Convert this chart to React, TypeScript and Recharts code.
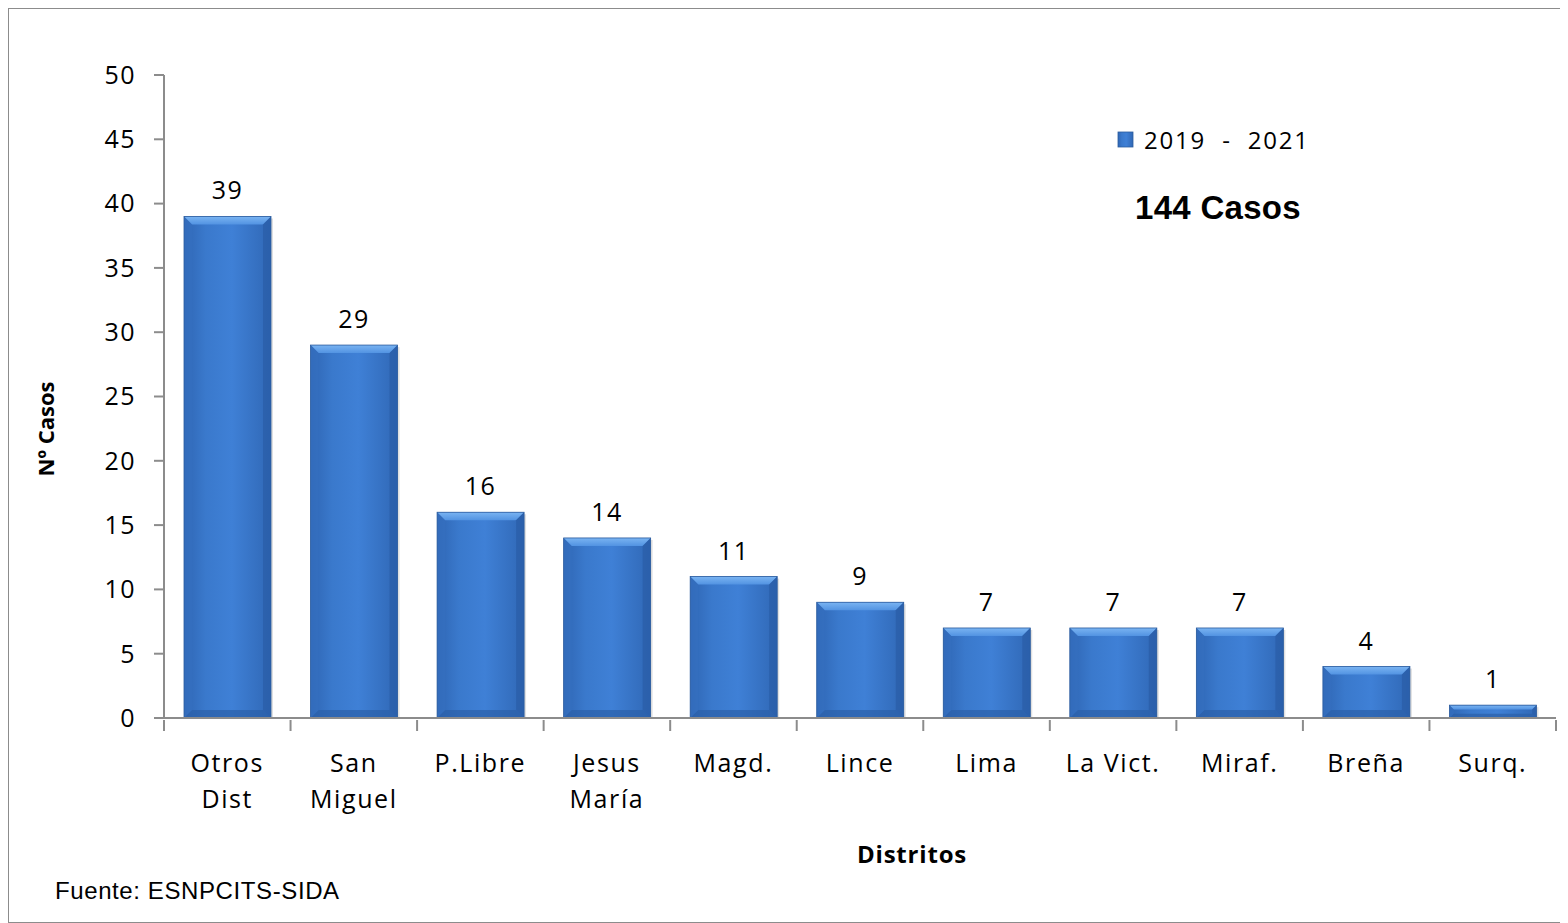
import React from 'react'
import { BarChart, Bar, XAxis, YAxis, LabelList } from 'recharts'

const DISTRICTS = ['Otros\nDist', 'San\nMiguel', 'P.Libre', 'Jesus\nMaría', 'Magd.', 'Lince', 'Lima', 'La Vict.', 'Miraf.', 'Breña', 'Surq.']
const CASES = [39, 29, 16, 14, 11, 9, 7, 7, 7, 4, 1]
const Y_TICKS = [0, 5, 10, 15, 20, 25, 30, 35, 40, 45, 50]

const data = DISTRICTS.map((d, i) => ({ district: d, cases: CASES[i] }))

const FONT = '"Open Sans", Lato, sans-serif'
const AXIS = '#8c8c8c'
const CHART_W = 1558
const MARGIN = { top: 66, right: 11, left: 95, bottom: 104 }
const Y_WIDTH = 60

const BevelBar = (props: any) => {
  const { x, y, width, height } = props
  if (!height || height <= 0) return null
  const b = Math.min(8, height / 3)
  return (
    <g>
      <rect x={x + 2} y={y + 2} width={width} height={height - 2} fill="#000" opacity={0.12} />
      <rect x={x} y={y} width={width} height={height} fill="url(#barGrad)" />
      <polygon points={`${x},${y} ${x + width},${y} ${x + width - b},${y + b} ${x + b},${y + b}`} fill="url(#topGrad)" />
      <polygon points={`${x},${y + height} ${x + width},${y + height} ${x + width - b},${y + height - b} ${x + b},${y + height - b}`} fill="#2b5fa8" opacity={0.7} />
      <polygon points={`${x},${y} ${x + b},${y + b} ${x + b},${y + height - b} ${x},${y + height}`} fill="#3570c0" opacity={0.6} />
      <polygon points={`${x + width},${y} ${x + width - b},${y + b} ${x + width - b},${y + height - b} ${x + width},${y + height}`} fill="#2a5ca6" opacity={0.7} />
      <rect x={x} y={y} width={width} height={height} fill="none" stroke="#2c5c9e" strokeWidth={0.8} />
    </g>
  )
}

// tick marks sit on the category boundaries, labels in the middle
const DistrictTick = ({ x, y, payload, index }: any) => {
  const lines = String(payload.value).split('\n')
  const plotW = CHART_W - MARGIN.left - MARGIN.right - Y_WIDTH
  const half = plotW / DISTRICTS.length / 2
  return (
    <g>
      <line x1={x - half} y1={y - 8} x2={x - half} y2={y + 3} stroke={AXIS} strokeWidth={2} />
      {index === DISTRICTS.length - 1 && (
        <line x1={x + half} y1={y - 8} x2={x + half} y2={y + 3} stroke={AXIS} strokeWidth={2} />
      )}
      <text x={x} y={y} textAnchor="middle" fontSize={25} fill="#000" fontFamily={FONT} letterSpacing={1.6}>
        {lines.map((l, i) => (
          <tspan key={i} x={x} dy={i === 0 ? 44 : 36}>{l}</tspan>
        ))}
      </text>
    </g>
  )
}

export default function App() {
  return (
    <div style={{ position: 'relative', width: CHART_W, height: 913, border: '1px solid #8c8c8c', background: '#fff', fontFamily: FONT }}>
      <BarChart width={CHART_W} height={913} data={data} margin={MARGIN} barSize={87}>
        <defs>
          <linearGradient id="barGrad" x1="0" y1="0" x2="1" y2="0">
            <stop offset="0%" stopColor="#2f66b4" />
            <stop offset="25%" stopColor="#3a79cc" />
            <stop offset="55%" stopColor="#3f80d6" />
            <stop offset="100%" stopColor="#3068b6" />
          </linearGradient>
          <linearGradient id="topGrad" x1="0" y1="0" x2="0" y2="1">
            <stop offset="0%" stopColor="#7ab4f2" />
            <stop offset="100%" stopColor="#5293e2" />
          </linearGradient>
        </defs>
        <XAxis
          dataKey="district"
          interval={0}
          height={100}
          stroke={AXIS}
          strokeWidth={2}
          tickLine={false}
          tickSize={8}
          tick={<DistrictTick />}
        />
        <YAxis
          domain={[0, 50]}
          ticks={Y_TICKS}
          width={Y_WIDTH}
          stroke={AXIS}
          strokeWidth={2}
          tickSize={10}
          tickMargin={18}
          tick={{ fontSize: 25, fill: '#000', fontFamily: FONT, letterSpacing: 1.5 }}
        />
        <Bar dataKey="cases" shape={<BevelBar />} isAnimationActive={false}>
          <LabelList dataKey="cases" position="top" offset={17} style={{ fontSize: 25, fill: '#000', fontFamily: FONT, letterSpacing: 1.5 }} />
        </Bar>
        <text x={36} y={420} transform="rotate(-90 36 420)" textAnchor="middle" dominantBaseline="central" fontSize={22} fontWeight="bold" fill="#000" fontFamily={FONT}>Nº Casos</text>
        <text x={903} y={854} textAnchor="middle" fontSize={24} fontWeight="bold" fill="#000" fontFamily={FONT} letterSpacing={0.8}>Distritos</text>
        <rect x={1109} y={123} width={15} height={15} fill="url(#barGrad)" stroke="#2c5c9e" strokeWidth={0.8} />
        <text x={1135} y={140} fontSize={24} fill="#000" fontFamily={FONT} letterSpacing={1.8} style={{ whiteSpace: 'pre' }}>{'2019  -  2021'}</text>
        <text x={1126} y={210} fontSize={33} fontWeight="bold" fill="#000" fontFamily='"Liberation Sans", Arial, sans-serif' letterSpacing={0.3}>144 Casos</text>
        <text x={46} y={890} fontSize={24} fill="#000" fontFamily='"Liberation Sans", Arial, sans-serif' letterSpacing={0.6}>Fuente: ESNPCITS-SIDA</text>
      </BarChart>
    </div>
  )
}
